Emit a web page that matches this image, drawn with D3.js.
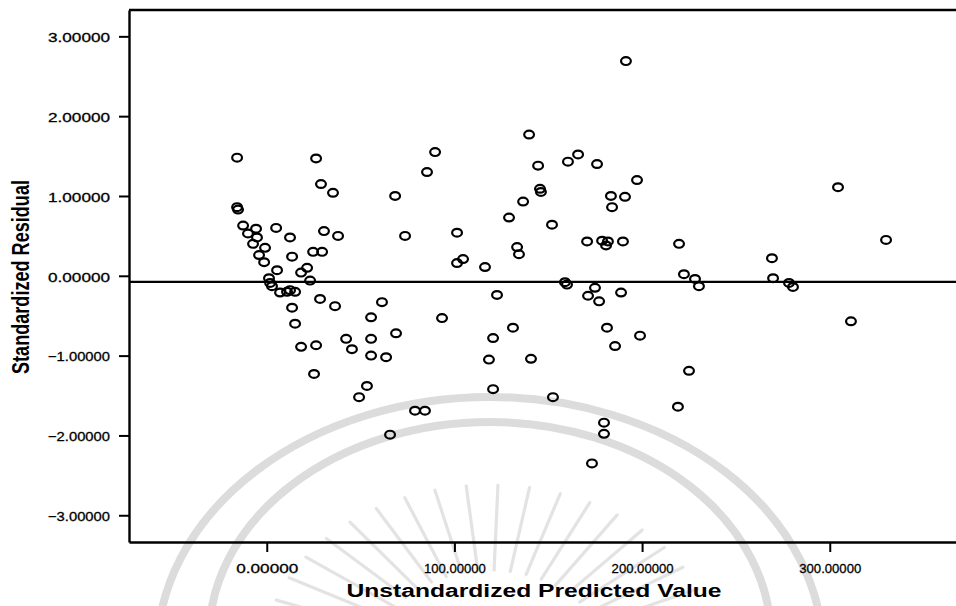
<!DOCTYPE html>
<html>
<head>
<meta charset="utf-8">
<script src="https://cdn.jsdelivr.net/npm/d3@7"></script>
<style>
  html, body { margin: 0; padding: 0; background: #fff; }
  svg { display: block; }
  text { font-family: "Liberation Sans", Arial, sans-serif; }
</style>
</head>
<body>
<div id="chart"></div>
<script>
// ---- data ----
const predicted = [
  -15.8, -15.8, -15.3, -12.6, -10.0, -5.7, -5.2, -7.3, -0.9, -4.1,
  -1.4, 5.0, 12.4, 13.5, 5.5, 1.2, 1.8, 2.8, 7.1, 10.8,
  12.4, 15.1, 21.5, 18.3, 23.1, 24.7, 29.5, 30.5, 38.0, 13.5,
  28.4, 36.4, 26.3, 28.9, 35.3, 15.1, 18.3, 26.3, 25.2, 42.3,
  45.4, 55.6, 55.6, 61.4, 68.9, 55.6, 63.6, 53.4, 49.2, 79.0,
  84.3, 65.7, 68.4, 73.7, 85.4, 89.7, 93.4, 101.4, 101.4, 104.6,
  116.3, 122.7, 120.6, 118.4, 120.6, 129.1, 133.4, 134.4, 136.6, 139.8,
  144.6, 145.6, 146.1, 152.0, 131.2, 140.8, 152.5, 160.5, 165.9, 176.0,
  191.4, 197.3, 158.9, 160.0, 170.7, 178.7, 181.8, 180.8, 189.8, 183.4,
  190.9, 184.0, 174.9, 171.2, 177.1, 188.8, 181.3, 185.6, 198.9, 179.7,
  179.7, 173.3, 219.7, 222.3, 228.2, 230.3, 225.0, 219.1, 269.2, 269.8,
  278.3, 280.4, 304.4, 330.0, 311.3
];
const residual = [
  1.48, 0.86, 0.83, 0.63, 0.53, 0.59, 0.48, 0.40, 0.35, 0.26,
  0.17, 0.60, 0.48, 0.24, 0.07, -0.03, -0.09, -0.13, -0.21, -0.20,
  -0.18, -0.20, 0.10, 0.04, -0.06, 0.30, 0.30, 0.56, 0.50, -0.40,
  -0.29, -0.38, 1.47, 1.15, 1.04, -0.60, -0.89, -0.87, -1.23, -0.79,
  -0.92, -0.79, -0.52, -0.33, -0.72, -1.00, -1.02, -1.38, -1.52, -1.69,
  -1.69, -1.99, 1.00, 0.50, 1.30, 1.55, -0.53, 0.54, 0.16, 0.21,
  0.11, -0.24, -0.78, -1.05, -1.42, 0.73, 0.36, 0.27, 0.93, 1.77,
  1.38, 1.09, 1.05, 0.64, -0.65, -1.04, -1.52, 1.43, 1.52, 1.40,
  2.69, 1.20, -0.08, -0.11, 0.43, 0.44, 0.43, 0.38, 0.43, 1.00,
  0.99, 0.86, -0.15, -0.25, -0.32, -0.21, -0.65, -0.88, -0.75, -1.84,
  -1.98, -2.35, 0.40, 0.02, -0.04, -0.13, -1.19, -1.64, 0.22, -0.03,
  -0.09, -0.14, 1.11, 0.45, -0.57
];
const xTicks = [0, 100, 200, 300];
const yTicks = [-3, -2, -1, 0, 1, 2, 3];
const xTitle = "Unstandardized Predicted Value";
const yTitle = "Standardized Residual";
const referenceLine = -0.076;

(function () {
  // ---- layout ----
  const W = 956, H = 606;
  const mLeft = 129, mTop = 10, mBottom = 542, mRight = 960;

  const svg = d3.select("#chart").append("svg")
    .attr("width", W).attr("height", H);
  svg.append("rect").attr("width", W).attr("height", H).attr("fill", "#fff");

  // ---- faint watermark (scan background) ----
  const wm = svg.append("g").attr("fill", "none");
  wm.append("ellipse").attr("cx", 490).attr("cy", 653).attr("rx", 333).attr("ry", 256)
    .attr("stroke", "#dcdcdc").attr("stroke-width", 8);
  wm.append("ellipse").attr("cx", 490).attr("cy", 638).attr("rx", 281).attr("ry", 216)
    .attr("stroke", "#dcdcdc").attr("stroke-width", 8);
  const rayAngles = d3.range(200, 341, 8);
  wm.selectAll("line.ray").data(rayAngles).join("line")
    .attr("class", "ray")
    .attr("x1", a => 490 + 1.3 * 90 * Math.cos(a * Math.PI / 180))
    .attr("y1", a => 660 + 90 * Math.sin(a * Math.PI / 180))
    .attr("x2", a => 490 + 1.3 * 175 * Math.cos(a * Math.PI / 180))
    .attr("y2", a => 660 + 175 * Math.sin(a * Math.PI / 180))
    .attr("stroke", "#e3e3e3")
    .attr("stroke-width", 3.2).attr("stroke-linecap", "round");

  // ---- scales ----
  const x = d3.scaleLinear().domain([-73.4, 369.4]).range([mLeft, mRight]);
  const y = d3.scaleLinear().domain([-3.335, 3.33]).range([mBottom, mTop]);
  const fmt = d3.format(".5f");

  // ---- axes ----
  const gy = svg.append("g").attr("transform", `translate(${mLeft},0)`)
    .call(d3.axisLeft(y).tickValues(yTicks).tickFormat(fmt).tickSize(10).tickSizeOuter(0).tickPadding(9));
  const gx = svg.append("g").attr("transform", `translate(0,${mBottom})`)
    .call(d3.axisBottom(x).tickValues(xTicks).tickFormat(fmt).tickSize(10).tickSizeOuter(0).tickPadding(9));
  [gy, gx].forEach(g => {
    g.select(".domain").attr("stroke", "#000").attr("stroke-width", 2.4);
    g.selectAll(".tick line").attr("stroke", "#000").attr("stroke-width", 2);
    g.selectAll(".tick text")
      .attr("fill", "#000")
      .attr("stroke", "#000").attr("stroke-width", 0.3)
      .style("font-size", "13px")
      .style("font-family", '"Liberation Sans", Arial, sans-serif')
      .attr("textLength", 62)
      .attr("lengthAdjust", "spacingAndGlyphs");
  });
  gy.selectAll(".tick text").attr("dy", "0.4em");
  gx.selectAll(".tick text").attr("dy", "0.95em");

  // top border
  svg.append("line")
    .attr("x1", x.range()[0]).attr("x2", x.range()[1])
    .attr("y1", y(y.domain()[1])).attr("y2", y(y.domain()[1]))
    .attr("stroke", "#000").attr("stroke-width", 2.4);

  // reference line
  svg.append("line")
    .attr("x1", x.range()[0]).attr("x2", x.range()[1])
    .attr("y1", y(referenceLine)).attr("y2", y(referenceLine))
    .attr("stroke", "#000").attr("stroke-width", 2.2);

  // ---- points ----
  svg.append("g").selectAll("ellipse").data(predicted.map((p, i) => [p, residual[i]]))
    .join("ellipse")
    .attr("cx", d => x(d[0]))
    .attr("cy", d => y(d[1]))
    .attr("rx", 4.9).attr("ry", 3.9)
    .attr("fill", "none").attr("stroke", "#000").attr("stroke-width", 2.2);

  // ---- titles ----
  svg.append("text")
    .attr("x", 534).attr("y", 597)
    .attr("text-anchor", "middle")
    .style("font-size", "18px").style("font-weight", "bold")
    .attr("textLength", 375).attr("lengthAdjust", "spacingAndGlyphs")
    .text(xTitle);

  svg.append("text")
    .attr("transform", "translate(21,277) scale(1.3,1) rotate(-90)")
    .attr("text-anchor", "middle")
    .attr("dy", "0.35em")
    .style("font-size", "18px").style("font-weight", "bold")
    .attr("textLength", 194).attr("lengthAdjust", "spacingAndGlyphs")
    .text(yTitle);
})();
</script>
</body>
</html>
